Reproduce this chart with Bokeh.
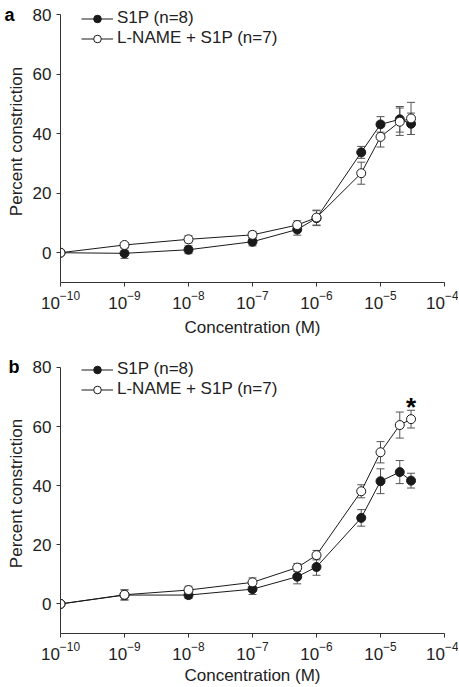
from bokeh.plotting import figure
from bokeh.layouts import column
from bokeh.models import (ColumnDataSource, Whisker, TeeHead, Legend, LegendItem,
                          FixedTicker, Range1d, LinearAxis)
from bokeh.core.properties import value
from bokeh.embed import file_html
from bokeh.resources import INLINE

# ---------------- data ----------------
conc = [1e-10, 1e-9, 1e-8, 1e-7, 5e-7, 1e-6, 5e-6, 1e-5, 2e-5, 3e-5]
x_ticks = [1e-10, 1e-9, 1e-8, 1e-7, 1e-6, 1e-5, 1e-4]
y_ticks = [0, 20, 40, 60, 80]

s1p_a = [0, -0.2, 1.0, 3.7, 7.8, 11.6, 33.7, 43.1, 44.8, 43.3]
s1p_a_err = [0, 1.7, 1.3, 1.4, 1.9, 2.5, 2.0, 2.6, 4.3, 3.6]
lname_a = [0, 2.6, 4.5, 6.0, 9.3, 11.8, 26.7, 38.9, 44.0, 45.1]
lname_a_err = [0, 0.8, 1.2, 1.2, 1.4, 2.5, 3.7, 3.4, 4.6, 5.4]

s1p_b = [0, 3.0, 3.0, 5.0, 9.2, 12.5, 29.1, 41.5, 44.6, 41.7]
s1p_b_err = [0, 1.7, 1.2, 1.8, 2.4, 2.8, 2.8, 4.2, 3.9, 2.5]
lname_b = [0, 3.1, 4.7, 7.3, 12.3, 16.5, 38.1, 51.3, 60.5, 62.5]
lname_b_err = [0, 1.7, 1.3, 1.5, 1.3, 1.6, 2.2, 3.6, 4.4, 3.0]

labels = ["S1P (n=8)", "L-NAME + S1P (n=7)"]
panel_letters = ["a", "b"]

FONT = "Liberation Sans"
TXT = "#222222"
INK = "#1a1a1a"
ERR = "#555555"
FS = "17px"

Y_LO, Y_HI = y_ticks[0] - 10, y_ticks[-1]
# extra headroom above the top tick so the legend is not clipped (14 px)
Y_TOP = Y_HI + 14 * (Y_HI - Y_LO) / 268.0


def make_panel(letter, letter_standoff, y1, e1, y2, e2, height, border_bottom,
               label_standoff, star=False):
    p = figure(width=458, height=height, x_axis_type="log",
               x_range=Range1d(x_ticks[0], x_ticks[-1]), y_range=Range1d(Y_LO, Y_TOP),
               output_backend="svg", toolbar_location=None,
               min_border_left=60, min_border_right=14, min_border_top=0,
               min_border_bottom=border_bottom)
    p.outline_line_color = None
    p.grid.visible = False
    p.background_fill_color = "white"
    p.border_fill_color = "white"

    for ax in (p.xaxis[0], p.yaxis[0]):
        ax.axis_line_color = "#333333"
        ax.major_tick_line_color = "#333333"
        ax.major_tick_out = 4
        ax.major_tick_in = 0
        ax.minor_tick_out = 0
        ax.minor_tick_in = 0
        ax.major_label_text_font = FONT
        ax.major_label_text_font_size = FS
        ax.major_label_text_color = TXT
        ax.axis_label_text_font = FONT
        ax.axis_label_text_font_size = FS
        ax.axis_label_text_font_style = "normal"
        ax.axis_label_text_color = TXT

    p.xaxis.ticker = FixedTicker(ticks=x_ticks)
    p.yaxis.ticker = FixedTicker(ticks=y_ticks)
    p.yaxis.bounds = (Y_LO, Y_HI)
    p.xaxis.axis_label = "Concentration (M)"
    p.yaxis.axis_label = "Percent constriction"
    p.yaxis.major_label_standoff = 5
    p.yaxis.axis_label_standoff = 4
    p.xaxis.major_label_standoff = 4
    p.xaxis.axis_label_standoff = label_standoff

    # panel letter, drawn as the single label of an extra (invisible) left axis
    lax = LinearAxis(ticker=FixedTicker(ticks=[Y_HI]),
                     major_label_overrides={Y_HI: letter},
                     axis_line_color=None, major_tick_line_color=None,
                     minor_tick_line_color=None, major_tick_out=0, major_tick_in=0,
                     minor_tick_out=0, minor_tick_in=0,
                     major_label_standoff=letter_standoff,
                     major_label_text_font=FONT, major_label_text_font_size="18px",
                     major_label_text_font_style="bold", major_label_text_color="black")
    p.add_layout(lax, "left")

    series = []
    for ys, es, fill in ((y1, e1, INK), (y2, e2, "white")):
        idx = [i for i, e in enumerate(es) if e > 0]
        src = ColumnDataSource(dict(
            x=[conc[i] for i in idx],
            upper=[ys[i] + es[i] for i in idx],
            lower=[ys[i] - es[i] for i in idx]))
        w = Whisker(base="x", upper="upper", lower="lower", source=src,
                    line_color=ERR, line_width=1,
                    upper_head=TeeHead(size=8, line_color=ERR, line_width=1),
                    lower_head=TeeHead(size=8, line_color=ERR, line_width=1))
        p.add_layout(w)
        series.append((ys, fill))

    items = []
    for (ys, fill), lab in zip(series, labels):
        ln = p.line(conc, ys, line_color=INK, line_width=1)
        sc = p.scatter(conc, ys, marker="circle", size=9, fill_color=fill,
                       line_color=INK, line_width=1)
        items.append(LegendItem(label=lab, renderers=[ln, sc]))

    leg = Legend(items=items, location=(21, 234), padding=0, spacing=0, margin=0,
                 glyph_width=32, glyph_height=19, label_height=19,
                 label_standoff=4, label_text_font=FONT,
                 label_text_font_size=FS, label_text_color=TXT,
                 border_line_color=None, background_fill_alpha=0)
    p.add_layout(leg)

    if star:
        p.text(x=[conc[-1]], y=[y2[-1] + e2[-1]], text=["*"],
               text_font=value(FONT), text_font_size="26px", text_font_style="bold",
               text_color="black", text_align="center", text_baseline="alphabetic",
               y_offset=-3)
    return p


pa = make_panel(panel_letters[0], -11, s1p_a, s1p_a_err, lname_a, lname_a_err,
                height=353, border_bottom=71, label_standoff=6)
pb = make_panel(panel_letters[1], -16, s1p_b, s1p_b_err, lname_b, lname_b_err,
                height=334, border_bottom=52, label_standoff=3, star=True)

layout = column(pa, pb, spacing=0)
open("out.html", "w").write(file_html(layout, INLINE))
